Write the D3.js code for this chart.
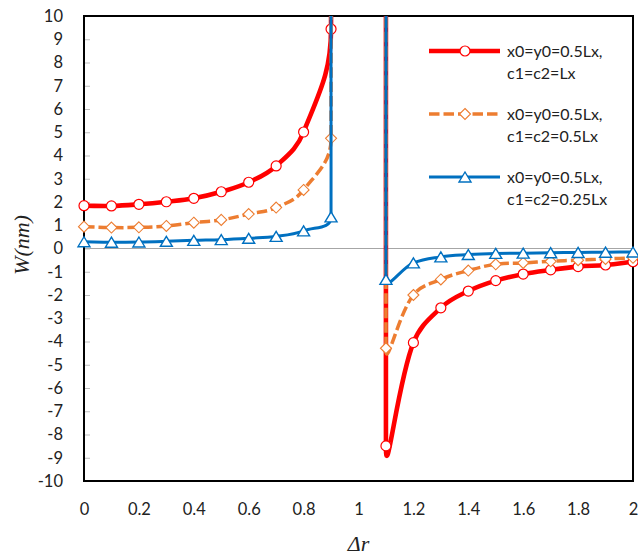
<!DOCTYPE html>
<html>
<head>
<meta charset="utf-8">
<script src="https://cdn.jsdelivr.net/npm/d3@7"></script>
<style>
  html, body { margin: 0; padding: 0; background: #fff; }
  svg { display: block; }
  .tick text { font-family: Lato, "Open Sans", sans-serif; font-size: 16.5px; fill: #222; }
  .legend text { font-family: Lato, "Open Sans", sans-serif; font-size: 16px; fill: #222; }
  .title { font-family: "Liberation Serif", "DejaVu Serif", serif; font-style: italic; fill: #222; }
</style>
</head>
<body>
<svg id="chart" width="638" height="558"></svg>
<script>
// Δr sample positions (the deflection is singular at Δr = 1)
const deltaR = [0, 0.1, 0.2, 0.3, 0.4, 0.5, 0.6, 0.7, 0.8, 0.9, 1.0,
                1.1, 1.2, 1.3, 1.4, 1.5, 1.6, 1.7, 1.8, 1.9, 2.0];

// value used at the singular point Δr = 1 (far above the axis range)
const POLE = 1e4;

// W (nm) for each load case
const wFull = [1.84, 1.83, 1.90, 2.01, 2.16, 2.44, 2.85, 3.55, 5.01, 9.44, POLE,
               -8.49, -4.05, -2.55, -1.83, -1.38, -1.10, -0.92, -0.78, -0.71, -0.57];
const wHalf = [0.94, 0.90, 0.91, 0.97, 1.11, 1.23, 1.48, 1.76, 2.52, 4.74, POLE,
               -4.29, -2.00, -1.33, -0.95, -0.68, -0.62, -0.55, -0.50, -0.45, -0.40];
const wQuarter = [0.29, 0.27, 0.28, 0.31, 0.35, 0.38, 0.44, 0.52, 0.76, 1.36, POLE,
                  -1.33, -0.62, -0.36, -0.26, -0.21, -0.20, -0.18, -0.17, -0.16, -0.15];

const seriesNames = ["x0=y0=0.5Lx,|c1=c2=Lx", "x0=y0=0.5Lx,|c1=c2=0.5Lx", "x0=y0=0.5Lx,|c1=c2=0.25Lx"];
const seriesColors = ["#FF0000", "#ED7D31", "#0070C0"];
const seriesMarkers = ["circle", "diamond", "triangle"];

const xTicks = [0, 0.2, 0.4, 0.6, 0.8, 1, 1.2, 1.4, 1.6, 1.8, 2];
const yTicks = d3.range(-10, 11, 1);

const svg = d3.select("#chart");
const plot = { left: 84, right: 633, top: 16, bottom: 481 };

const x = d3.scaleLinear().domain([0, 2]).range([plot.left, plot.right]);
const y = d3.scaleLinear().domain([-10, 10]).range([plot.bottom, plot.top]);

// Spreadsheet-style smoothing: Bezier handles follow the neighbour chord,
// with a length proportional to the segment being drawn.
function smoothCurve(context) {
  let pts;
  const k = 0.4;
  return {
    areaStart() {}, areaEnd() {},
    lineStart() { pts = []; },
    point(px, py) { pts.push([+px, +py]); },
    lineEnd() {
      const n = pts.length;
      if (!n) return;
      context.moveTo(pts[0][0], pts[0][1]);
      const dir = i => {
        const a = pts[Math.max(i - 1, 0)], b = pts[Math.min(i + 1, n - 1)];
        const dx = b[0] - a[0], dy = b[1] - a[1];
        const L = Math.hypot(dx, dy) || 1;
        return [dx / L, dy / L];
      };
      for (let i = 0; i < n - 1; i++) {
        const p = pts[i], q = pts[i + 1];
        const d = Math.hypot(q[0] - p[0], q[1] - p[1]) * k;
        const t0 = dir(i), t1 = dir(i + 1);
        context.bezierCurveTo(p[0] + t0[0] * d, p[1] + t0[1] * d,
                              q[0] - t1[0] * d, q[1] - t1[1] * d, q[0], q[1]);
      }
    }
  };
}

// clip for the series lines
svg.append("defs").append("clipPath").attr("id", "plotClip")
  .append("rect")
  .attr("x", plot.left).attr("y", plot.top)
  .attr("width", plot.right - plot.left).attr("height", plot.bottom - plot.top);

// zero line
svg.append("line")
  .attr("x1", x(0)).attr("x2", x(2))
  .attr("y1", y(0)).attr("y2", y(0))
  .attr("stroke", "#a6a6a6").attr("stroke-width", 1);

// y axis: ticks point into the plot, labels on the left
const yAxis = svg.append("g")
  .attr("transform", `translate(${plot.left},0)`)
  .call(d3.axisLeft(y).tickValues(yTicks).tickSize(-6).tickPadding(21).tickFormat(d => String(d)));
yAxis.select(".domain").remove();
yAxis.selectAll(".tick line").attr("stroke", "#bfbfbf").attr("stroke-width", 1);

// x axis labels
const xAxis = svg.append("g")
  .attr("transform", `translate(0,${plot.bottom})`)
  .call(d3.axisBottom(x).tickValues(xTicks).tickSize(0).tickPadding(22).tickFormat(d => String(d)));
xAxis.select(".domain").remove();

// plot frame
svg.append("rect")
  .attr("x", plot.left).attr("y", plot.top)
  .attr("width", plot.right - plot.left).attr("height", plot.bottom - plot.top)
  .attr("fill", "none").attr("stroke", "#000").attr("stroke-width", 2);

// axis titles
svg.append("text").attr("class", "title")
  .attr("x", (plot.left + plot.right) / 2).attr("y", 551)
  .attr("text-anchor", "middle").attr("font-size", 22)
  .text("Δr");
svg.append("text").attr("class", "title")
  .attr("transform", "translate(29,245) rotate(-90)")
  .attr("text-anchor", "middle").attr("font-size", 22)
  .text("W(nm)");

const line = d3.line().x(d => x(d.r)).y(d => y(d.w)).curve(smoothCurve);

function drawMarker(g, kind, color, cx, cy) {
  if (kind === "circle") {
    g.append("circle").attr("cx", cx).attr("cy", cy).attr("r", 5)
      .attr("fill", "#fff").attr("stroke", color).attr("stroke-width", 1.2);
  } else if (kind === "diamond") {
    const s = 5.5;
    g.append("path")
      .attr("d", `M${cx},${cy - s}L${cx + s},${cy}L${cx},${cy + s}L${cx - s},${cy}Z`)
      .attr("fill", "#fff").attr("stroke", color).attr("stroke-width", 1.1);
  } else {
    const h = 10, w = 12;
    g.append("path")
      .attr("d", `M${cx},${cy - h / 2}L${cx + w / 2},${cy + h / 2}L${cx - w / 2},${cy + h / 2}Z`)
      .attr("fill", "#fff").attr("stroke", color).attr("stroke-width", 1.4);
  }
}

const seriesValues = [wFull, wHalf, wQuarter];
const lineWidths = [4.6, 3.5, 3];
const dashes = [null, "10.5,4", null];

seriesValues.forEach((vals, si) => {
  const data = deltaR.map((r, i) => ({ r, w: vals[i] }));
  const g = svg.append("g");
  g.append("path")
    .datum(data)
    .attr("clip-path", "url(#plotClip)")
    .attr("d", line)
    .attr("fill", "none")
    .attr("stroke", seriesColors[si])
    .attr("stroke-width", lineWidths[si])
    .attr("stroke-dasharray", dashes[si])
    .attr("stroke-linejoin", "round");
  data.filter(d => d.w >= -10 && d.w <= 10).forEach(d => {
    drawMarker(g, seriesMarkers[si], seriesColors[si], x(d.r), y(d.w));
  });
});

// legend
const legend = svg.append("g").attr("class", "legend");
const legendRows = [51, 114, 177];
seriesNames.forEach((name, si) => {
  const ly = legendRows[si];
  const g = legend.append("g");
  g.append("line")
    .attr("x1", 429).attr("x2", 500).attr("y1", ly).attr("y2", ly)
    .attr("stroke", seriesColors[si]).attr("stroke-width", lineWidths[si])
    .attr("stroke-dasharray", dashes[si]);
  drawMarker(g, seriesMarkers[si], seriesColors[si], 465, ly);
  const parts = name.split("|");
  parts.forEach((p, j) => {
    g.append("text").attr("x", 507).attr("y", ly + 6 + j * 22).text(p);
  });
});
</script>
</body>
</html>
